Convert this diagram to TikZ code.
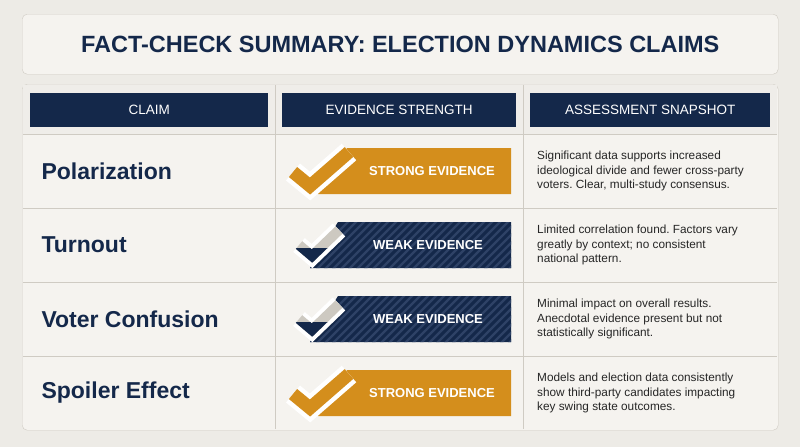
\documentclass[tikz,border=0pt]{standalone}
\usepackage{fontspec}
\setmainfont{Liberation Sans}
\usetikzlibrary{patterns}
\definecolor{navy}{HTML}{14284A}
\definecolor{gold}{HTML}{D48E1C}
\definecolor{bg}{HTML}{EDEBE6}
\definecolor{cell}{HTML}{F5F3EF}
\definecolor{line}{HTML}{CFCBC3}
\definecolor{stripe}{HTML}{2E4266}
\definecolor{greyc}{HTML}{CDC9C1}
\begin{document}
\frenchspacing
\begin{tikzpicture}[x=1pt,y=-1pt,
  hdr/.style={fill=navy,text=white,font=\fontsize{13.5}{15}\selectfont,inner sep=0,minimum height=34,anchor=north west},
  claim/.style={text=navy,font=\bfseries\fontsize{23}{26}\selectfont,anchor=west},
  desc/.style={text=black!85,font=\fontsize{11.8}{14.2}\selectfont,anchor=west,align=left,inner sep=0},
  btxt/.style={text=white,font=\bfseries\fontsize{13}{15}\selectfont}]
\useasboundingbox (0,0) rectangle (800,447);
\fill[bg] (0,0) rectangle (800,447);
\node[draw=line,fill=cell,rounded corners=5,minimum width=756,minimum height=60,inner sep=0,anchor=north west,
  font=\bfseries\fontsize{23.5}{26}\selectfont,text=navy] (title) at (22,14) {FACT-CHECK SUMMARY: ELECTION DYNAMICS CLAIMS};
\node[draw=line,fill=cell,rounded corners=5,minimum width=756,minimum height=346,inner sep=0,anchor=north west] (tab) at (22,84) {};
\fill[bg!70!cell] (23,85) rectangle (777,134);
\draw[line] (23,134) -- (777,134);
\foreach \y in {208,282,356} \draw[line] (23,\y) -- (777,\y);
\draw[line] (275,85) -- (275,429);
\draw[line] (523,85) -- (523,429);
\node[hdr,minimum width=238] (h1) at (30,93) {CLAIM};
\node[hdr,minimum width=234] (h2) at (282,93) {EVIDENCE STRENGTH};
\node[hdr,minimum width=240] (h3) at (530,93) {ASSESSMENT SNAPSHOT};
\node[claim] (c1) at (38,171) {Polarization};
\node[claim] (c2) at (38,245) {Turnout};
\node[claim] (c3) at (38,319) {Voter Confusion};
\node[claim] (c4) at (38,393) {Spoiler Effect};
\node[desc] (d1) at (537,171) {Significant data supports increased\\ideological divide and fewer cross-party\\voters. Clear, multi-study consensus.};
\node[desc] (d2) at (537,245) {Limited correlation found. Factors vary\\greatly by context; no consistent\\national pattern.};
\node[desc] (d3) at (537,319) {Minimal impact on overall results.\\Anecdotal evidence present but not\\statistically significant.};
\node[desc] (d4) at (537,393) {Models and election data consistently\\show third-party candidates impacting\\key swing state outcomes.};
\foreach \yc/\n in {171/1,393/4}{
  \fill[gold] (347,\yc-23) -- (511,\yc-23) -- (511,\yc+23) -- (318,\yc+23) -- cycle;
  \draw[white,line width=22,line join=miter] (293,\yc+1) -- (310,\yc+15) -- (349,\yc-19);
  \draw[gold,line width=13,line join=miter] (293,\yc+1) -- (310,\yc+15) -- (349,\yc-19);
  \node[btxt] (s\n) at (432,\yc) {STRONG EVIDENCE};
}
\foreach \yc/\n in {245/2,319/3}{
  \fill[navy] (338,\yc-23) -- (511,\yc-23) -- (511,\yc+23) -- (310,\yc+23) -- cycle;
  \begin{scope}
  \clip (338,\yc-23) -- (511,\yc-23) -- (511,\yc+23) -- (310,\yc+23) -- cycle;
  \foreach \k in {0,...,28} \draw[stripe,line width=2.2] (300+\k*8,\yc+25) -- ++(50,-50);
  \end{scope}
  \draw[white,line width=18,line join=miter] (299,\yc) -- (312,\yc+11) -- (339,\yc-15);
  \draw[greyc,line width=10,line join=miter] (299,\yc) -- (312,\yc+11) -- (339,\yc-15);
  \begin{scope}\clip (280,\yc+3) rectangle (340,\yc+30);
  \draw[navy,line width=10,line join=miter] (299,\yc) -- (312,\yc+11) -- (339,\yc-15);
  \end{scope}
  \node[btxt] (w\n) at (428,\yc) {WEAK EVIDENCE};
}
\end{tikzpicture}
\end{document}
